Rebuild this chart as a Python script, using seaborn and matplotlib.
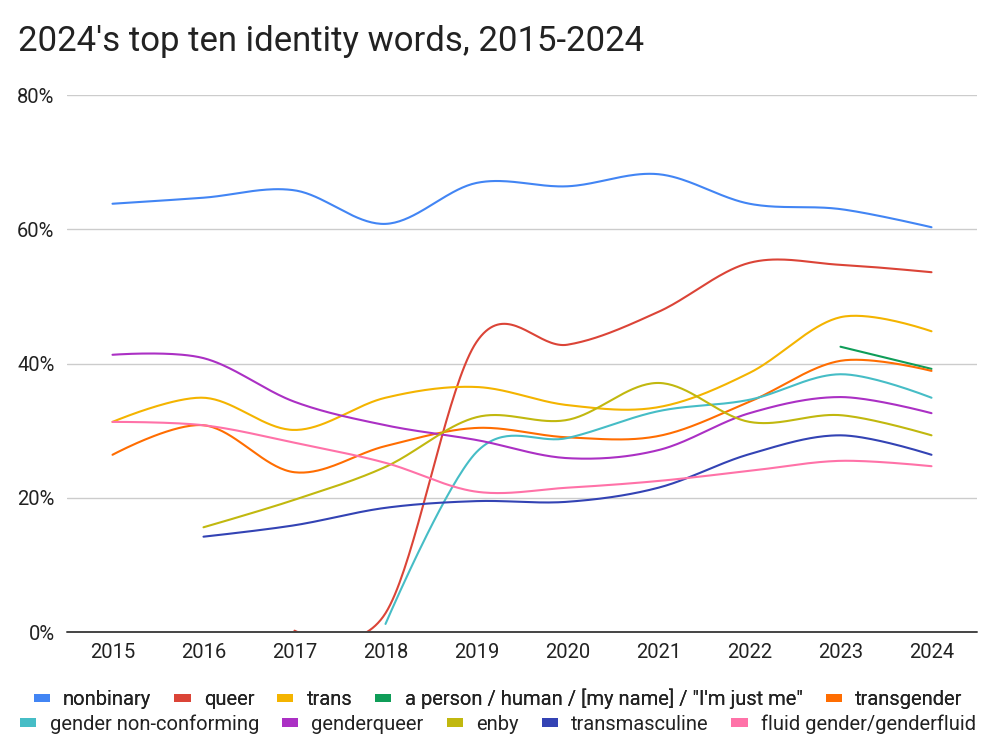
import numpy as np
import pandas as pd
import matplotlib
matplotlib.use("Agg")
import matplotlib.pyplot as plt
from matplotlib.patches import Patch
import seaborn as sns

years = [2015, 2016, 2017, 2018, 2019, 2020, 2021, 2022, 2023, 2024]

nonbinary = [63.8, 64.7, 65.8, 60.8, 66.9, 66.4, 68.2, 63.8, 63.0, 60.3]
queer = [None, None, 0.2, 2.8, 43.2, 42.8, 47.7, 55.0, 54.7, 53.6]
trans = [31.3, 34.9, 30.1, 34.9, 36.5, 33.8, 33.5, 38.6, 46.9, 44.8]
a_person = [None, None, None, None, None, None, None, None, 42.5, 39.2]
transgender = [26.4, 30.8, 23.8, 27.7, 30.4, 29.0, 29.2, 34.3, 40.4, 38.9]
gender_nonconforming = [None, None, None, 1.2, 26.8, 28.9, 32.9, 34.6, 38.4, 34.9]
genderqueer = [41.3, 40.8, 34.3, 30.8, 28.6, 25.9, 27.1, 32.6, 35.0, 32.6]
enby = [None, 15.6, 19.7, 24.6, 32.0, 31.6, 37.1, 31.3, 32.3, 29.3]
transmasculine = [None, 14.2, 15.9, 18.5, 19.5, 19.4, 21.5, 26.5, 29.3, 26.4]
fluid = [31.3, 30.8, 28.2, 25.2, 20.9, 21.5, 22.5, 24.0, 25.5, 24.7]

series_names = ["nonbinary", "queer", "trans", 'a person / human / [my name] / "I\'m just me"',
                "transgender", "gender non-conforming", "genderqueer", "enby",
                "transmasculine", "fluid gender/genderfluid"]
series_values = [nonbinary, queer, trans, a_person, transgender, gender_nonconforming,
                 genderqueer, enby, transmasculine, fluid]
colors = ["#4285f4", "#db4437", "#f4b400", "#0f9d58", "#ff6d01", "#46bdc6",
          "#ab30c4", "#c1b80f", "#3343b4", "#ff72a8"]

yticks = [0, 20, 40, 60, 80]
ytick_labels = ["0%", "20%", "40%", "60%", "80%"]


def smooth(xs, ys, n=40):
    """Bezier smoothing through the read points (Google-Charts style curve)."""
    xs = np.asarray(xs, float)
    ys = np.asarray(ys, float)
    m = len(xs)
    if m < 3:
        t = np.linspace(0, 1, n)
        return xs[0] + (xs[-1] - xs[0]) * t, ys[0] + (ys[-1] - ys[0]) * t
    outx, outy = [], []
    for i in range(m - 1):
        p0 = np.array([xs[i], ys[i]])
        p1 = np.array([xs[i + 1], ys[i + 1]])
        if i == 0:
            c1 = p0
        else:
            prev = np.array([xs[i - 1], ys[i - 1]])
            c1 = p0 + (p1 - prev) / 6.0
        if i + 1 == m - 1:
            c2 = p1
        else:
            nxt = np.array([xs[i + 2], ys[i + 2]])
            c2 = p1 - (nxt - p0) / 6.0
        t = np.linspace(0, 1, n)[:, None]
        pts = ((1 - t) ** 3) * p0 + 3 * ((1 - t) ** 2) * t * c1 + 3 * (1 - t) * t ** 2 * c2 + t ** 3 * p1
        if i > 0:
            pts = pts[1:]
        outx.extend(pts[:, 0])
        outy.extend(pts[:, 1])
    return np.array(outx), np.array(outy)


rows = []
for name, vals in zip(series_names, series_values):
    xs = [y for y, v in zip(years, vals) if v is not None]
    ys = [v for v in vals if v is not None]
    sx, sy = smooth(xs, ys)
    for a, b in zip(sx, sy):
        rows.append({"series": name, "year": a, "value": b})
df = pd.DataFrame(rows)

sns.set_theme(style="white")
plt.rcParams["font.family"] = ["Roboto", "DejaVu Sans"]

FS = 14.5
fig = plt.figure(figsize=(9.96, 7.52), dpi=100)
ax = fig.add_axes([67 / 996, 1 - 632 / 752, (977 - 67) / 996, (632 - 95) / 752])

sns.lineplot(data=df, x="year", y="value", hue="series", hue_order=series_names,
             palette=dict(zip(series_names, colors)), estimator=None, sort=False,
             linewidth=1.5, legend=False, ax=ax, zorder=3)

ax.set_xlim(2014.5, 2024.5)
ax.set_ylim(0, 80)
ax.set_xticks(years)
ax.set_xticklabels([str(y) for y in years], fontsize=FS, color="#222222")
ax.set_yticks(yticks)
ax.set_yticklabels(ytick_labels, fontsize=FS, color="#222222")
ax.tick_params(axis="both", length=0)
ax.tick_params(axis="x", pad=8)
ax.tick_params(axis="y", pad=9)
for y in yticks[1:]:
    ax.axhline(y, color="#cccccc", linewidth=1, zorder=1)
for s in ax.spines.values():
    s.set_visible(False)
ax.axhline(0, color="#444444", linewidth=1.4, zorder=4, clip_on=False)
ax.set_xlabel("")
ax.set_ylabel("")

fig.text(18 / 996, 1 - 42 / 752, "2024's top ten identity words, 2015-2024",
         fontsize=25, color="#222222", va="center", ha="left")

handles = [Patch(facecolor=c, edgecolor="none") for c in colors]
leg_kw = dict(loc="center", ncol=5, frameon=False, fontsize=FS,
              handlelength=0.8, handleheight=0.3, handletextpad=0.65,
              columnspacing=1.15, borderaxespad=0, borderpad=0)
leg1 = fig.legend(handles[:5], series_names[:5], bbox_to_anchor=(0.5, 1 - 699 / 752), **leg_kw)
fig.add_artist(leg1)
leg2 = fig.legend(handles[5:], series_names[5:], bbox_to_anchor=(0.5, 1 - 724 / 752), **leg_kw)
for leg in (leg1, leg2):
    for t in leg.get_texts():
        t.set_color("#222222")

fig.savefig("out.png", dpi=100)
